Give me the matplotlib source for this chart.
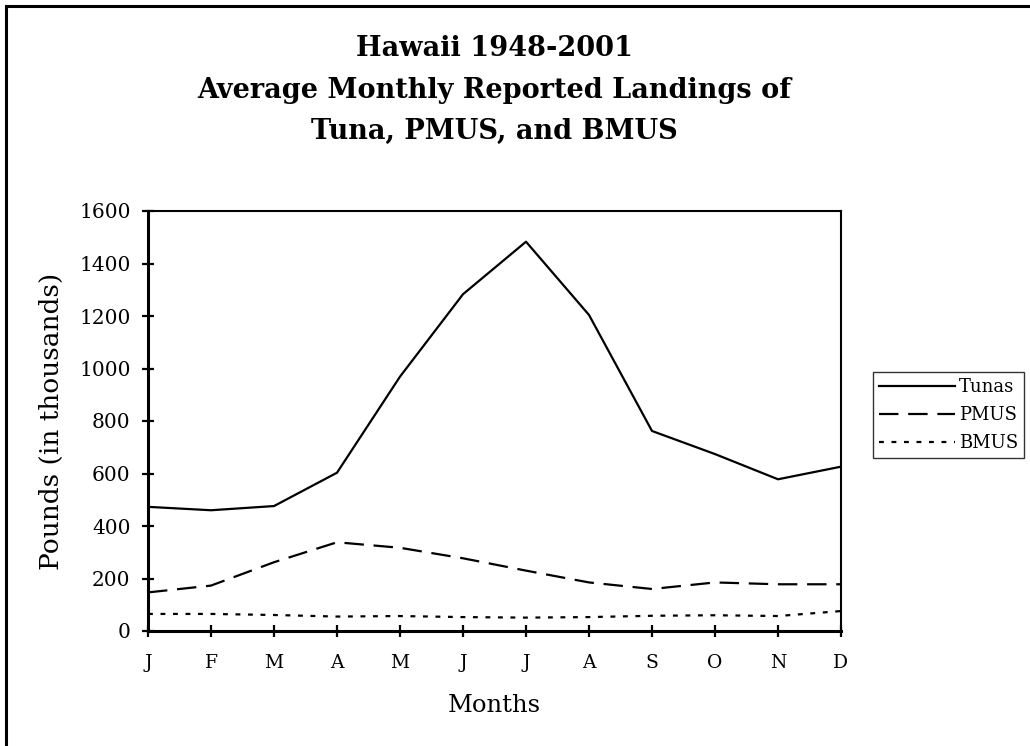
import numpy as np
import matplotlib.pyplot as plt
from matplotlib.patches import Rectangle

months = ['J','F','M','A','M','J','J','A','S','O','N','D']
tunas = [473,460,476,603,969,1283,1483,1204,762,674,578,626]
pmus = [147,173,262,338,317,277,230,185,160,185,178,178]
bmus = [65,65,61,55,57,53,51,53,58,60,57,76]

plt.rcParams['font.family'] = 'DejaVu Serif'
plt.rcParams['lines.scale_dashes'] = False

fig = plt.figure(figsize=(10.3,7.46), dpi=100)
ax = fig.add_axes([148/1030., 1-631/746., 693/1030., 420/746.])

x = np.arange(len(months))
ax.plot(x, tunas, color='black', lw=1.6, label='Tunas')
ax.plot(x, pmus, color='black', lw=1.6, dashes=(14,7), label='PMUS')
ax.plot(x, bmus, color='black', lw=1.6, dashes=(3.5,5.5), label='BMUS')

ax.set_xlim(0, 11)
ax.set_ylim(0, 1600)
ax.set_yticks(np.arange(0,1601,200))
ax.set_xticks(x)
ax.set_xticklabels(months)
ax.tick_params(direction='inout', length=9, width=1.6, labelsize=13.5, color='black')
ax.tick_params(axis='y', labelsize=14.5, pad=8)
ax.tick_params(axis='x', pad=12)
for s in ['left','bottom']:
    ax.spines[s].set_linewidth(2.2)
for s in ['top','right']:
    ax.spines[s].set_linewidth(1.5)

ax.set_ylabel('Pounds (in thousands)', fontsize=19, labelpad=11)
ax.set_xlabel('Months', fontsize=17.5, labelpad=16)
fig.text(494/1030., 1-90/746., 'Hawaii 1948-2001\nAverage Monthly Reported Landings of\nTuna, PMUS, and BMUS',
         ha='center', va='center', fontsize=19.5, fontweight='bold', linespacing=1.68)

leg = ax.legend(loc='center left', bbox_to_anchor=(873/1030., 1-415/746.), bbox_transform=fig.transFigure,
                frameon=True, fancybox=False, edgecolor='black', fontsize=13, handlelength=4.2,
                handletextpad=0.2, borderpad=0.35, labelspacing=0.55, borderaxespad=0)
leg.get_frame().set_linewidth(1.0)

fig.patches.append(Rectangle((5.5/1030., -0.1), 1.2, 1.1-6/746., transform=fig.transFigure,
                             fill=False, edgecolor='black', lw=2.2))

fig.savefig('out.png', dpi=100)
